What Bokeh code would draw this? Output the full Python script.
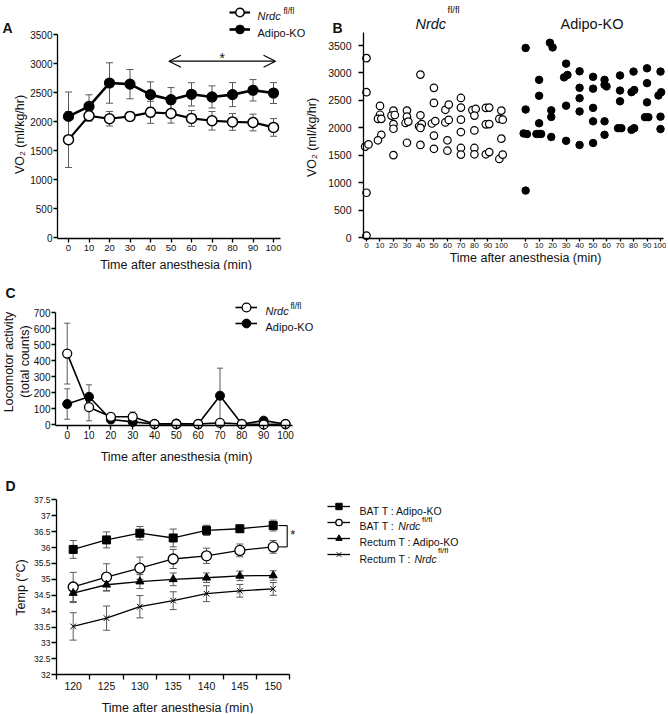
import math
from bokeh.plotting import figure
from bokeh.models import (Range1d, FixedTicker, Label, Legend, LegendItem, Whisker, TeeHead,
                          ColumnDataSource, Arrow, OpenHead)
from bokeh.layouts import column, row
from bokeh.embed import file_html
from bokeh.resources import INLINE

FONT = "Liberation Sans"
INK = "#111111"
ERR = "#5a5a5a"

# ---------------- data ----------------
# Panel A: VO2 time course (mean, SEM)
time_a = [0, 10, 20, 30, 40, 50, 60, 70, 80, 90, 100]
vo2_nrdc = [1690, 2100, 2050, 2090, 2160, 2140, 2055, 2015, 1995, 1985, 1900]
vo2_nrdc_sem = [480, 92, 125, 75, 190, 165, 135, 160, 144, 144, 152]
vo2_ko = [2090, 2262, 2665, 2645, 2465, 2378, 2470, 2425, 2465, 2540, 2492]
vo2_ko_sem = [420, 200, 348, 252, 220, 208, 200, 190, 207, 184, 180]
sig_range = [49, 101]
sig_level = 3040

# Panel B: individual VO2 values
b_nrdc_time = [0, 0, -1, 1.5, 0, 0,
               10, 10, 8.5, 11, 11, 8.5,
               20, 18.5, 21, 20, 20, 20,
               30, 30, 29, 31, 30,
               40, 40, 39, 41, 40, 40,
               50, 50, 48.5, 51, 50, 50,
               58.5, 61, 58.5, 61, 60, 60,
               70, 70, 70, 70, 70, 70,
               78.5, 81, 80, 80, 80, 80,
               88.5, 91, 88.5, 91, 88.5, 91,
               100, 98.5, 101, 100, 98.5, 101]
b_nrdc_vo2 = [3270, 2650, 1660, 1700, 820, 40,
              2400, 2240, 2165, 2165, 1875, 1775,
              2315, 2225, 2235, 2070, 1985, 1505,
              2315, 2205, 2090, 2115, 1730,
              2970, 2230, 2030, 2070, 2000, 1690,
              2730, 2455, 2080, 2125, 1860, 1620,
              2330, 2425, 2100, 2145, 1775, 1585,
              2545, 2370, 2150, 1925, 1635, 1515,
              2325, 2345, 2225, 1955, 1635, 1520,
              2365, 2370, 2065, 2070, 1520, 1560,
              2315, 2165, 2150, 1805, 1435, 1515]
b_ko_time = [0, 0, -1.5, 1, 0,
             10, 10, 10, 8, 10, 11.5,
             18, 20, 19, 19, 19,
             30, 28.5, 31, 30, 30,
             40, 40, 40, 40, 40,
             50, 50, 50, 50, 50,
             58.5, 58.5, 60, 58.5, 58.5,
             70, 70, 70, 68.5, 71,
             80, 78.5, 80.5, 78.5, 80.5,
             90, 90, 90, 88.5, 91,
             100, 98.5, 100.5, 100, 100]
b_ko_vo2 = [3455, 2335, 1900, 1888, 860,
            2875, 2585, 2085, 1890, 1890, 1890,
            3550, 3465, 2320, 2200, 1835,
            3170, 2920, 2965, 2405, 1765,
            3030, 2730, 2540, 2300, 1690,
            2930, 2715, 2365, 2120, 1725,
            2875, 2785, 2755, 2120, 1875,
            2955, 2680, 2485, 1995, 1995,
            3025, 2650, 2690, 1965, 1995,
            3085, 2815, 2465, 2195, 2195,
            3025, 2590, 2650, 2205, 1980]
b_group_offset = 118

# Panel C: locomotor activity (mean, SEM)
loco_nrdc = [445, 110, 50, 50, 5, 5, 5, 12, 5, 2, 5]
loco_nrdc_sem = [190, 85, 15, 30, 4, 4, 4, 5, 4, 3, 4]
loco_ko = [130, 175, 33, 18, 5, 8, 5, 182, 5, 26, 5]
loco_ko_sem = [95, 75, 12, 5, 4, 4, 4, 172, 4, 18, 4]

# Panel D: temperatures (mean, SEM)
time_d = [120, 125, 130, 135, 140, 145, 150]
bat_ko = [35.94, 36.24, 36.45, 36.30, 36.54, 36.59, 36.69]
bat_ko_sem = [0.28, 0.25, 0.21, 0.28, 0.16, 0.10, 0.17]
bat_nrdc = [34.76, 35.07, 35.35, 35.64, 35.74, 35.91, 36.02]
bat_nrdc_sem = [0.46, 0.42, 0.35, 0.30, 0.24, 0.20, 0.20]
rect_ko = [34.57, 34.83, 34.93, 35.00, 35.05, 35.11, 35.12]
rect_ko_sem = [0.30, 0.20, 0.22, 0.20, 0.15, 0.15, 0.15]
rect_nrdc = [33.52, 33.78, 34.14, 34.33, 34.55, 34.64, 34.70]
rect_nrdc_sem = [0.43, 0.38, 0.35, 0.28, 0.25, 0.20, 0.20]
temp_ticks = [32, 32.5, 33, 33.5, 34, 34.5, 35, 35.5, 36, 36.5, 37, 37.5]


# ---------------- helpers ----------------
def lin(p0, v0, p1, v1):
    """pixel -> value calibration along one axis"""
    return lambda px: v0 + (px - p0) * (v1 - v0) / (p1 - p0)


def make_fig(box, fx, fy):
    x0, y0, w, h = box
    p = figure(width=w, height=h, x_range=Range1d(fx(x0), fx(x0 + w)),
               y_range=Range1d(fy(y0 + h), fy(y0)), output_backend="svg",
               toolbar_location=None, min_border=0, title=None)
    p.outline_line_color = None
    p.grid.visible = False
    p.background_fill_color = "white"
    p.border_fill_color = "white"
    for ax in (p.xaxis[0], p.yaxis[0]):
        ax.axis_line_width = 1.3
        ax.axis_line_color = "black"
        ax.major_tick_line_width = 1.3
        ax.major_tick_line_color = "black"
        ax.major_tick_out = 5
        ax.major_tick_in = 0
        ax.minor_tick_line_color = None
        ax.major_label_text_font = FONT
        ax.major_label_text_color = INK
    return p


def txt(p, box, xp, yp, text, size, style="normal", align="left",
        baseline="alphabetic", angle=0.0):
    p.add_layout(Label(x=xp - box[0], y=box[1] + box[3] - yp, x_units="screen",
                       y_units="screen", text=text, text_font=FONT,
                       text_font_size=f"{size}px", text_font_style=style, text_color=INK,
                       text_align=align, text_baseline=baseline, angle=angle))


def errbars(p, xs, ys, es, cap, color=ERR, lw=1.0):
    src = ColumnDataSource(dict(x=xs, up=[y + e for y, e in zip(ys, es)],
                                lo=[y - e for y, e in zip(ys, es)]))
    p.add_layout(Whisker(source=src, base="x", upper="up", lower="lo",
                         line_color=color, line_width=lw,
                         upper_head=TeeHead(size=cap, line_color=color, line_width=lw),
                         lower_head=TeeHead(size=cap, line_color=color, line_width=lw)))


def legend_row(p, box, renderers, left, cy, gw, gh):
    """one legend swatch (line + marker), centred vertically on page row cy"""
    lg = Legend(items=[LegendItem(label=" ", renderers=renderers)],
                location=(left - box[0], box[1] + box[3] - (cy + gh / 2)),
                orientation="vertical", glyph_width=gw, glyph_height=gh, spacing=0,
                padding=0, margin=0, border_line_color=None, background_fill_alpha=0,
                label_standoff=0, label_text_font_size="1px", label_height=gh,
                label_width=0)
    p.add_layout(lg)


# ---------------- Panel A ----------------
boxA = (0, 0, 305, 270)
fxA, fyA = lin(68, 0, 273, 100), lin(237.3, 0, 34, 3500)
pA = make_fig(boxA, fxA, fyA)
pA.xaxis.fixed_location = fyA(238)
pA.yaxis.fixed_location = fxA(57)
pA.xaxis.bounds = (fxA(57), fxA(280))
pA.yaxis.bounds = (fyA(238), 3500)
pA.xaxis.ticker = FixedTicker(ticks=time_a)
pA.yaxis.ticker = FixedTicker(ticks=list(range(0, 3501, 500)))
pA.xaxis.major_label_text_font_size = "9.5px"
pA.yaxis.major_label_text_font_size = "10px"
pA.xaxis.major_tick_out = 4
pA.yaxis.major_tick_out = 4
pA.xaxis.major_label_standoff = 2
pA.yaxis.major_label_standoff = 1

errbars(pA, time_a, vo2_ko, vo2_ko_sem, 7)
errbars(pA, time_a, vo2_nrdc, vo2_nrdc_sem, 7)
la_ko = pA.line(time_a, vo2_ko, line_color="black", line_width=2.6)
sa_ko = pA.scatter(time_a, vo2_ko, marker="circle", size=10, fill_color="black",
                   line_color="black", line_width=1.2)
la_n = pA.line(time_a, vo2_nrdc, line_color="black", line_width=2.2)
sa_n = pA.scatter(time_a, vo2_nrdc, marker="circle", size=10, fill_color="white",
                  line_color="black", line_width=1.5)
pA.add_layout(Arrow(start=OpenHead(size=12, line_width=1.2), end=OpenHead(size=12, line_width=1.2),
                    x_start=sig_range[0], x_end=sig_range[1], y_start=sig_level, y_end=sig_level,
                    line_width=1.2, line_color="black"))
pA.add_layout(Label(x=sum(sig_range) / 2, y=sig_level, y_offset=3, text="*", text_font=FONT,
                    text_font_size="14px", text_align="center", text_baseline="alphabetic",
                    text_color=INK))
legend_row(pA, boxA, [la_n, sa_n], 229, 12, 21, 24)
legend_row(pA, boxA, [la_ko, sa_ko], 229, 28.5, 21, 24)
txt(pA, boxA, 257, 15.5, "Nrdc", 11, "italic")
txt(pA, boxA, 283, 10, "fl/fl", 8.5)
txt(pA, boxA, 257, 32.5, "Adipo-KO", 11)
txt(pA, boxA, 2, 27, "A", 14, "bold")
txt(pA, boxA, 175.5, 264, "Time after anesthesia (min)", 12.5, align="center")
txt(pA, boxA, 19.5, 134, "VO\u2082 (ml/kg/hr)", 12.5, align="center", baseline="middle",
    angle=math.pi / 2)

# ---------------- Panel B ----------------
boxB = (305, 0, 361, 270)
fxB, fyB = lin(366, 0, 660, 218), lin(237.3, 0, 45, 3500)
pB = make_fig(boxB, fxB, fyB)
pB.xaxis.fixed_location = fyB(238)
pB.yaxis.fixed_location = fxB(363)
pB.xaxis.bounds = (fxB(363), fxB(663))
pB.yaxis.bounds = (fyB(238), fyB(32))
b_ticks = time_a + [t + b_group_offset for t in time_a]
pB.xaxis.ticker = FixedTicker(ticks=b_ticks)
pB.xaxis.major_label_overrides = {t + b_group_offset: str(t) for t in time_a}
pB.yaxis.ticker = FixedTicker(ticks=list(range(0, 3501, 500)))
pB.xaxis.major_label_text_font_size = "8px"
pB.yaxis.major_label_text_font_size = "10.5px"
pB.xaxis.major_tick_out = 3
pB.xaxis.major_label_standoff = 1
pB.yaxis.major_tick_out = 5
pB.yaxis.major_label_standoff = 7
pB.scatter(b_nrdc_time, b_nrdc_vo2, marker="circle", size=7.5, fill_color="white",
           line_color="black", line_width=1.2)
pB.scatter([t + b_group_offset for t in b_ko_time], b_ko_vo2, marker="circle", size=7.5,
           fill_color="black", line_color="black", line_width=1)
txt(pB, boxB, 332, 27, "B", 14, "bold")
txt(pB, boxB, 415, 23.5, "Nrdc", 14.5, "italic")
txt(pB, boxB, 447, 9, "fl/fl", 9.5)
txt(pB, boxB, 591.5, 23.7, "Adipo-KO", 14.5, align="center")
txt(pB, boxB, 525, 257.5, "Time after anesthesia (min)", 12.5, align="center")
txt(pB, boxB, 311.5, 137, "VO\u2082 (ml/kg/hr)", 12.5, align="center", baseline="middle",
    angle=math.pi / 2)

# ---------------- Panel C ----------------
boxC = (0, 270, 330, 198)
fxC, fyC = lin(66.7, 0, 285, 100), lin(424.3, 0, 312.3, 700)
pC = make_fig(boxC, fxC, fyC)
pC.xaxis.fixed_location = fyC(425)
pC.yaxis.fixed_location = fxC(55)
pC.xaxis.bounds = (fxC(55), fxC(292))
pC.yaxis.bounds = (fyC(425), 700)
pC.xaxis.ticker = FixedTicker(ticks=time_a)
pC.yaxis.ticker = FixedTicker(ticks=list(range(0, 701, 100)))
pC.xaxis.major_label_text_font_size = "10px"
pC.yaxis.major_label_text_font_size = "10px"
pC.xaxis.major_tick_out = 4
pC.xaxis.major_label_standoff = 1
pC.yaxis.major_tick_out = 4
pC.yaxis.major_label_standoff = 1
errbars(pC, time_a, loco_nrdc, loco_nrdc_sem, 6)
errbars(pC, time_a, loco_ko, loco_ko_sem, 6)
lc_ko = pC.line(time_a, loco_ko, line_color="black", line_width=1.6)
sc_ko = pC.scatter(time_a, loco_ko, marker="circle", size=9, fill_color="black",
                   line_color="black", line_width=1)
lc_n = pC.line(time_a, loco_nrdc, line_color="black", line_width=1.6)
sc_n = pC.scatter(time_a, loco_nrdc, marker="circle", size=9, fill_color="white",
                  line_color="black", line_width=1.3)
legend_row(pC, boxC, [lc_n, sc_n], 235, 306.7, 22, 24)
legend_row(pC, boxC, [lc_ko, sc_ko], 235, 323, 22, 24)
txt(pC, boxC, 265, 310.7, "Nrdc", 11, "italic")
txt(pC, boxC, 290, 305, "fl/fl", 8.5)
txt(pC, boxC, 265, 326.5, "Adipo-KO", 11)
txt(pC, boxC, 5, 292, "C", 14, "bold")
txt(pC, boxC, 176, 456, "Time after anesthesia (min)", 12.5, align="center")
txt(pC, boxC, 8.5, 361.5, "Locomotor activity", 12.5, align="center", baseline="middle",
    angle=math.pi / 2)
txt(pC, boxC, 24.5, 361, "(total counts)", 12.5, align="center", baseline="middle",
    angle=math.pi / 2)

# ---------------- Panel D ----------------
boxD = (0, 468, 666, 245)
fxD, fyD = lin(72.7, 120, 272.7, 150), lin(674.3, 32, 499.3, 37.5)
pD = make_fig(boxD, fxD, fyD)
pD.xaxis.fixed_location = temp_ticks[0]
pD.yaxis.fixed_location = time_d[0] - 2.5
pD.xaxis.bounds = (time_d[0] - 2.5, time_d[-1] + 2.5)
pD.yaxis.bounds = (temp_ticks[0], temp_ticks[-1])
pD.xaxis.ticker = FixedTicker(ticks=time_d,
                              minor_ticks=[t - 2.5 for t in time_d] + [time_d[-1] + 2.5])
pD.xaxis.major_tick_out = 0
pD.xaxis.minor_tick_line_color = "black"
pD.xaxis.minor_tick_line_width = 1.3
pD.xaxis.minor_tick_out = 5
pD.xaxis.minor_tick_in = 0
pD.xaxis.major_label_standoff = 2
pD.xaxis.major_label_text_font_size = "10.5px"
pD.yaxis.ticker = FixedTicker(ticks=temp_ticks)
pD.yaxis.major_label_overrides = {t: f"{t:g}" for t in temp_ticks}
pD.yaxis.major_label_text_font_size = "8.5px"
pD.yaxis.major_tick_out = 5
pD.yaxis.major_label_standoff = 1

for ys, es in ((bat_ko, bat_ko_sem), (bat_nrdc, bat_nrdc_sem),
               (rect_ko, rect_ko_sem), (rect_nrdc, rect_nrdc_sem)):
    errbars(pD, time_d, ys, es, 7)
ld1 = pD.line(time_d, bat_ko, line_color="black", line_width=1.3)
sd1 = pD.scatter(time_d, bat_ko, marker="square", size=8, fill_color="black", line_color="black")
ld2 = pD.line(time_d, bat_nrdc, line_color="black", line_width=1.3)
sd2 = pD.scatter(time_d, bat_nrdc, marker="circle", size=10, fill_color="white",
                 line_color="black", line_width=1.3)
ld3 = pD.line(time_d, rect_ko, line_color="black", line_width=1.3)
sd3 = pD.scatter(time_d, rect_ko, marker="triangle", size=8, fill_color="black", line_color="black")
ld4 = pD.line(time_d, rect_nrdc, line_color="black", line_width=1.3)
sd4 = pD.scatter(time_d, rect_nrdc, marker="x", size=8, line_color="black", line_width=1)

# significance bracket between the two BAT series at the last time point
bx = time_d[-1] + 2.1
pD.segment(x0=[bx, bx - 1.3, bx - 1.3], y0=[bat_ko[-1], bat_ko[-1], bat_nrdc[-1]],
           x1=[bx, bx, bx], y1=[bat_nrdc[-1], bat_ko[-1], bat_nrdc[-1]],
           line_color="black", line_width=1.1)
pD.add_layout(Label(x=bx, y=(bat_ko[-1] + bat_nrdc[-1]) / 2, x_offset=3, y_offset=1.5,
                    text="*", text_font=FONT, text_font_size="13px",
                    text_baseline="middle", text_color=INK))

for rend, cy in (([ld1, sd1], 506), ([ld2, sd2], 521.7), ([ld3, sd3], 537.7), ([ld4, sd4], 554.3)):
    legend_row(pD, boxD, rend, 327, cy, 23, 16)
txt(pD, boxD, 359, 510, "BAT T : Adipo-KO", 10.5)
txt(pD, boxD, 359, 525.7, "BAT T : ", 10.5)
txt(pD, boxD, 397.7, 525.7, "Nrdc", 10.5, "italic")
txt(pD, boxD, 421.5, 519, "fl/fl", 8)
txt(pD, boxD, 359, 541.7, "Rectum T : Adipo-KO", 10.5)
txt(pD, boxD, 359, 558, "Rectum T : ", 10.5)
txt(pD, boxD, 414, 558, "Nrdc", 10.5, "italic")
txt(pD, boxD, 437.5, 550, "fl/fl", 8)
txt(pD, boxD, 5, 485, "D", 14, "bold")
txt(pD, boxD, 177, 707, "Time after anesthesia (min)", 12.5, align="center")
txt(pD, boxD, 20, 587, "Temp (\u00b0C)", 12.5, align="center", baseline="middle",
    angle=math.pi / 2)

layout = column(row(pA, pB), pC, pD)
open("out.html", "w").write(file_html(layout, INLINE))
